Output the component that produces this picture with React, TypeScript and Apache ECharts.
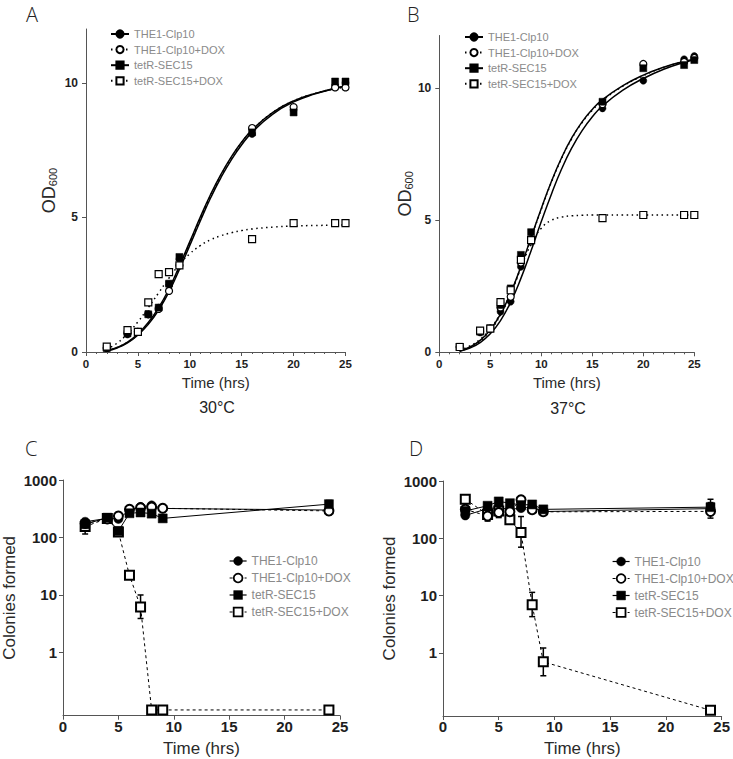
import React, { useEffect, useRef } from 'react';
import * as echarts from 'echarts';

const FONT = '"Liberation Sans", Arial, Helvetica, sans-serif';

const seriesNames = ['THE1-Clp10', 'THE1-Clp10+DOX', 'tetR-SEC15', 'tetR-SEC15+DOX'];

// ---------- Panels A / B : OD600 growth ----------
const odTimes = [2, 4, 5, 6, 7, 8, 9, 16, 20, 24, 25];
const odA_THE1 = [0.15, 0.65, 0.75, 1.4, 1.65, 2.5, 3.45, 8.1, 9.0, 9.9, 10.0];
const odA_THE1Dox = [0.15, 0.7, 0.75, 1.4, 1.6, 2.27, 3.22, 8.32, 9.1, 9.83, 9.83];
const odA_tetR = [0.14, 0.69, 0.75, 1.4, 1.65, 2.54, 3.53, 8.16, 8.9, 10.05, 10.05];
const odA_tetRDox = [0.2, 0.81, 0.75, 1.84, 2.89, 2.97, 3.22, 4.19, 4.79, 4.79, 4.79];

const odB_THE1 = [0.2, 0.75, 0.9, 1.54, 1.92, 3.24, 4.3, 9.24, 10.29, 11.1, 11.22];
const odB_THE1Dox = [0.2, 0.8, 0.9, 1.7, 2.1, 3.4, 4.2, 9.4, 10.92, 11.0, 11.15];
const odB_tetR = [0.21, 0.78, 0.91, 1.79, 2.42, 3.69, 4.55, 9.49, 10.76, 10.88, 11.07];
const odB_tetRDox = [0.2, 0.82, 0.9, 1.9, 2.35, 3.5, 4.25, 5.08, 5.2, 5.2, 5.2];

// fitted curves
const fitTimes = [2, 3, 4, 5, 6, 7, 8, 9, 10, 11, 12, 13, 14, 15, 16, 18, 20, 22, 24, 25];
const fitA_THE1 = [0.05, 0.17, 0.37, 0.68, 1.1, 1.65, 2.35, 3.2, 4.1, 5.0, 5.85, 6.6, 7.25, 7.8, 8.25, 8.9, 9.33, 9.6, 9.8, 9.87];
const fitA_THE1Dox = [0.05, 0.17, 0.36, 0.66, 1.07, 1.61, 2.3, 3.14, 4.04, 4.94, 5.8, 6.56, 7.22, 7.78, 8.24, 8.9, 9.33, 9.6, 9.78, 9.84];
const fitA_tetR = [0.04, 0.15, 0.34, 0.63, 1.03, 1.56, 2.24, 3.07, 3.96, 4.86, 5.72, 6.48, 7.14, 7.7, 8.16, 8.84, 9.29, 9.58, 9.79, 9.86];
const fitA_tetRDox = [0.1, 0.33, 0.68, 1.12, 1.65, 2.2, 2.75, 3.25, 3.65, 3.95, 4.17, 4.32, 4.43, 4.51, 4.57, 4.64, 4.68, 4.7, 4.71, 4.72];

const fitB_THE1 = [0.04, 0.16, 0.37, 0.7, 1.2, 1.9, 2.8, 3.85, 4.95, 6.0, 6.95, 7.75, 8.4, 8.92, 9.33, 9.93, 10.37, 10.72, 10.98, 11.08];
const fitB_THE1Dox = [0.05, 0.19, 0.43, 0.82, 1.42, 2.22, 3.22, 4.32, 5.42, 6.45, 7.35, 8.1, 8.7, 9.17, 9.54, 10.08, 10.48, 10.79, 11.01, 11.09];
const fitB_tetR = [0.05, 0.2, 0.45, 0.85, 1.45, 2.25, 3.25, 4.35, 5.45, 6.48, 7.38, 8.13, 8.73, 9.2, 9.57, 10.1, 10.5, 10.8, 11.02, 11.1];
const fitB_tetRDox = [0.08, 0.24, 0.5, 0.9, 1.48, 2.25, 3.2, 4.1, 4.7, 5.0, 5.12, 5.17, 5.19, 5.2, 5.2, 5.2, 5.2, 5.2, 5.2, 5.2];

// ---------- Panels C / D : colonies formed (log scale) ----------
const cfuTimes = [2, 4, 5, 6, 7, 8, 9, 24];
const cfuC_THE1 = [188, 215, 210, 300, 340, 362, 320, 300];
const cfuC_THE1Dox = [175, 210, 237, 310, 330, 340, 322, 290];
const cfuC_tetR = [170, 221, 130, 264, 272, 260, 215, 380];
const cfuC_tetRDox = [155, 215, 125, 22, 6.2, 0.1, 0.1, 0.1];

const cfuD_THE1 = [250, 330, 340, 320, 336, 350, 293, 330];
const cfuD_THE1Dox = [320, 245, 283, 290, 470, 315, 290, 295];
const cfuD_tetR = [300, 370, 440, 410, 380, 390, 320, 350];
const cfuD_tetRDox = [480, 260, 300, 210, 126, 6.9, 0.7, 0.1];

// error bars: [time, low, high]
const errC = [
  [2, 115, 200], [6, 19, 25], [7, 3.9, 10], [24, 250, 330], [24, 330, 440],
];
const errD = [
  [2, 230, 290], [4, 200, 300], [5, 230, 350], [7, 70, 240], [8, 4.3, 11.4],
  [9, 0.4, 1.22], [24, 225, 420], [24, 280, 480],
];

const yTicksOD = [0, 5, 10];
const yTicksLog = [0, 1, 2, 3];

const symbols = ['circle', 'circle', 'rect', 'rect'];
const filled = [true, false, true, false];
// drawing order in the colony panels (higher on top)
const cfuZ = [2.0, 2.2, 2.3, 2.1];

function pointStyle(k: number, bw: number) {
  return filled[k]
    ? { color: '#000', borderColor: '#000', borderWidth: 0.5, opacity: 1 }
    : { color: '#fff', borderColor: '#000', borderWidth: bw, opacity: 1 };
}

function buildOption() {
  const series: any[] = [];
  const dotted = [1.5, 3.5];
  const dashed = [3, 3];

  const odPanels = [
    { g: 0, fits: [fitA_THE1, fitA_THE1Dox, fitA_tetR, fitA_tetRDox], pts: [odA_THE1, odA_THE1Dox, odA_tetR, odA_tetRDox] },
    { g: 1, fits: [fitB_THE1, fitB_THE1Dox, fitB_tetR, fitB_tetRDox], pts: [odB_THE1, odB_THE1Dox, odB_tetR, odB_tetRDox] },
  ];
  odPanels.forEach((p) => {
    p.fits.forEach((f, k) => {
      series.push({
        type: 'line',
        name: seriesNames[k],
        xAxisIndex: p.g,
        yAxisIndex: p.g,
        data: fitTimes.map((t, i) => [t, f[i]]),
        smooth: 0.5,
        showSymbol: false,
        symbol: symbols[k],
        itemStyle: pointStyle(k, 1.3),
        lineStyle: { color: '#000', width: 1.5, type: filled[k] ? 'solid' : dotted },
        silent: true,
        z: 2,
      });
    });
    p.pts.forEach((v, k) => {
      series.push({
        type: 'scatter',
        name: seriesNames[k],
        xAxisIndex: p.g,
        yAxisIndex: p.g,
        data: odTimes.map((t, i) => [t, v[i]]),
        symbol: symbols[k],
        symbolSize: 7,
        itemStyle: pointStyle(k, 1.2),
        silent: true,
        z: 3,
      });
    });
  });

  const cfuPanels = [
    { g: 2, vals: [cfuC_THE1, cfuC_THE1Dox, cfuC_tetR, cfuC_tetRDox], err: errC },
    { g: 3, vals: [cfuD_THE1, cfuD_THE1Dox, cfuD_tetR, cfuD_tetRDox], err: errD },
  ];
  cfuPanels.forEach((p) => {
    series.push({
      type: 'custom',
      xAxisIndex: p.g,
      yAxisIndex: p.g,
      data: p.err.map((e) => [e[0], Math.log10(e[1]), Math.log10(e[2])]),
      encode: { x: 0, y: [1, 2] },
      silent: true,
      z: 1,
      renderItem: (params: any, api: any) => {
        const x = api.value(0);
        const a = api.coord([x, api.value(1)]);
        const b = api.coord([x, api.value(2)]);
        const w = 3;
        const st = { stroke: '#000', lineWidth: 1.5 };
        return {
          type: 'group',
          children: [
            { type: 'line', shape: { x1: a[0], y1: a[1], x2: b[0], y2: b[1] }, style: st },
            { type: 'line', shape: { x1: a[0] - w, y1: a[1], x2: a[0] + w, y2: a[1] }, style: st },
            { type: 'line', shape: { x1: b[0] - w, y1: b[1], x2: b[0] + w, y2: b[1] }, style: st },
          ],
        };
      },
    });
    p.vals.forEach((v, k) => {
      series.push({
        type: 'line',
        name: seriesNames[k],
        xAxisIndex: p.g,
        yAxisIndex: p.g,
        data: cfuTimes.map((t, i) => [t, Math.log10(v[i])]),
        symbol: symbols[k],
        symbolSize: 9,
        showSymbol: true,
        itemStyle: pointStyle(k, 2),
        lineStyle: { color: '#000', width: 1, type: filled[k] ? 'solid' : dashed },
        silent: true,
        z: cfuZ[k],
      });
    });
  });

  const grids = [
    { left: 86, top: 29, width: 259.5, height: 323 },
    { left: 439.3, top: 35.5, width: 255, height: 316.8 },
    { left: 59.3, top: 480, width: 280.7, height: 235.7 },
    { left: 443, top: 481, width: 280.3, height: 235 },
  ].map((g) => ({ ...g, containLabel: false }));

  const axisLineStyle = { color: '#555', width: 1 };

  const xAxes = [0, 1, 2, 3].map((g) => {
    const big = g >= 2;
    return {
      type: 'value',
      gridIndex: g,
      min: 0,
      max: 25,
      interval: 5,
      axisLine: { show: true, onZero: false, lineStyle: axisLineStyle },
      axisTick: { show: true, length: 4, lineStyle: axisLineStyle },
      minorTick: { show: !big, splitNumber: 5, length: 2, lineStyle: axisLineStyle },
      splitLine: { show: false },
      axisLabel: {
        margin: big ? 3 : 6,
        fontSize: big ? 15 : 11.5,
        fontWeight: 'bold',
        color: '#1e1e1e',
        fontFamily: FONT,
      },
      name: 'Time (hrs)',
      nameLocation: 'middle',
      nameGap: big ? 24 : 23,
      nameTextStyle: { fontSize: big ? 17 : 15, color: '#2a2a2a', fontFamily: FONT },
    };
  });

  const odName = '{a|OD}{b|600}';
  const yAxes = [0, 1, 2, 3].map((g) => {
    const big = g >= 2;
    const common: any = {
      type: 'value',
      gridIndex: g,
      axisLine: { show: true, onZero: false, lineStyle: axisLineStyle },
      splitLine: { show: false },
      nameLocation: 'middle',
    };
    if (!big) {
      return {
        ...common,
        min: 0,
        max: 12,
        axisTick: { show: true, length: 4, lineStyle: axisLineStyle, customValues: yTicksOD },
        axisLabel: {
          customValues: yTicksOD,
          margin: 8,
          fontSize: 12,
          fontWeight: 'bold',
          color: '#1e1e1e',
          fontFamily: FONT,
        },
        name: odName,
        nameGap: g === 0 ? 27 : 24,
        nameTextStyle: {
          color: '#2a2a2a',
          fontFamily: FONT,
          rich: {
            a: { fontSize: 18, fontFamily: FONT, color: '#2a2a2a', lineHeight: 20 },
            b: { fontSize: 11, fontFamily: FONT, color: '#2a2a2a', lineHeight: 20, padding: [7, 0, 0, 0] },
          },
        },
      };
    }
    return {
      ...common,
      min: -1.1,
      max: 3,
      axisTick: { show: true, length: 4, lineStyle: axisLineStyle, customValues: yTicksLog },
      axisLabel: {
        customValues: yTicksLog,
        formatter: (v: number) => String(Math.round(Math.pow(10, v))),
        margin: 6,
        fontSize: 15,
        fontWeight: 'bold',
        color: '#1e1e1e',
        fontFamily: FONT,
      },
      name: 'Colonies formed',
      nameGap: 45,
      nameTextStyle: { fontSize: 17, color: '#2a2a2a', fontFamily: FONT },
    };
  });

  const legendBase = (left: number, top: number, big: boolean) => ({
    show: true,
    orient: 'vertical',
    left,
    top,
    itemWidth: big ? 17 : 18,
    itemHeight: big ? 11 : 9,
    itemGap: big ? 4 : 3.6,
    selectedMode: false,
    textStyle: {
      fontSize: big ? 12 : 11,
      lineHeight: big ? 13 : 12,
      color: '#8a8a8a',
      fontFamily: FONT,
    },
    data: seriesNames.map((n, k) =>
      big
        ? {
            name: n,
            lineStyle: { type: filled[k] ? 'solid' : [3, 2], width: 1.2, color: '#000' },
            itemStyle: pointStyle(k, 1.8),
          }
        : { name: n }
    ),
  });

  const legends = [
    legendBase(105, 23, false),
    legendBase(459, 26, false),
    legendBase(224, 549.5, true),
    legendBase(607, 550, true),
  ];

  const letter = (text: string, x: number, y: number) => ({
    type: 'text',
    x,
    y,
    style: {
      text,
      font: '300 20px "Open Sans", "Liberation Sans", sans-serif',
      fill: '#222',
      verticalAlign: 'top',
    },
    silent: true,
  });
  const caption = (text: string, x: number, y: number) => ({
    type: 'text',
    x,
    y,
    style: { text, font: `16px ${FONT}`, fill: '#222', align: 'center', verticalAlign: 'middle' },
    silent: true,
  });

  return {
    animation: false,
    backgroundColor: '#fff',
    grid: grids,
    xAxis: xAxes,
    yAxis: yAxes,
    legend: legends,
    series,
    graphic: [
      letter('A', 26, 4),
      letter('B', 407, 4),
      letter('C', 25, 438),
      letter('D', 409, 438),
      caption('30°C', 217, 407),
      caption('37°C', 568, 408),
    ],
  };
}

export default function App() {
  const ref = useRef<HTMLDivElement>(null);
  useEffect(() => {
    if (!ref.current) return;
    const chart = echarts.init(ref.current, undefined, { renderer: 'svg' });
    chart.setOption(buildOption() as any);
    return () => chart.dispose();
  }, []);
  return (
    <div
      ref={ref}
      style={{ position: 'fixed', left: 0, top: 0, width: 733, height: 759, background: '#fff' }}
    />
  );
}
